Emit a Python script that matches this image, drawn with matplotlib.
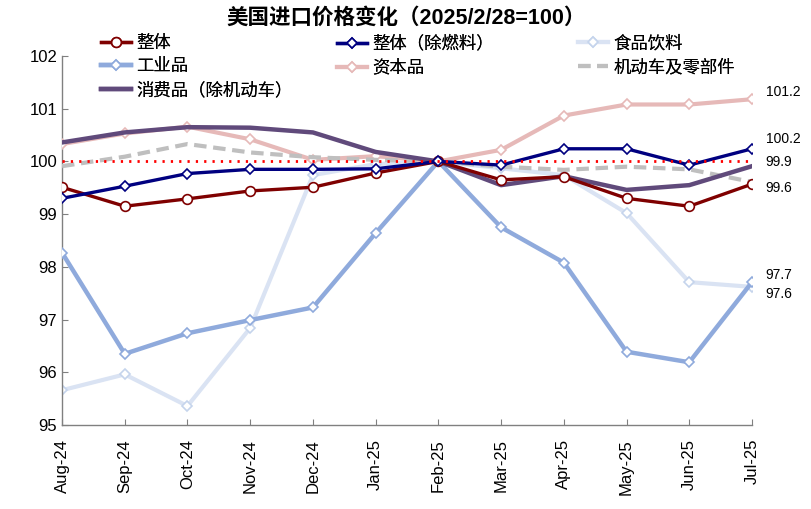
import matplotlib
matplotlib.use('Agg')
import matplotlib.pyplot as plt

plt.rcParams['font.family'] = ['Liberation Sans', 'Noto Sans CJK SC', 'DejaVu Sans']
plt.rcParams['axes.unicode_minus'] = False

months = ['Aug-24', 'Sep-24', 'Oct-24', 'Nov-24', 'Dec-24', 'Jan-25', 'Feb-25',
          'Mar-25', 'Apr-25', 'May-25', 'Jun-25', 'Jul-25']

total = [99.51, 99.15, 99.29, 99.44, 99.51, 99.78, 100.0, 99.65, 99.71, 99.30, 99.15, 99.57]
total_ex_fuel = [99.30, 99.53, 99.77, 99.85, 99.85, 99.86, 100.0, 99.93, 100.24, 100.24, 99.93, 100.24]
food = [95.66, 95.96, 95.36, 96.84, 99.74, 99.95, 100.0, 99.87, 99.74, 99.02, 97.71, 97.62]
industrial = [98.27, 96.35, 96.74, 96.99, 97.23, 98.64, 100.0, 98.75, 98.08, 96.39, 96.19, 97.71]
capital = [100.33, 100.53, 100.66, 100.42, 100.03, 100.10, 100.0, 100.22, 100.87, 101.08, 101.08, 101.18]
autos = [99.91, 100.09, 100.33, 100.17, 100.08, 100.03, 100.0, 99.90, 99.84, 99.90, 99.85, 99.61]
consumer = [100.36, 100.55, 100.65, 100.64, 100.55, 100.18, 100.0, 99.55, 99.72, 99.46, 99.55, 99.91]

end_labels = ['101.2', '100.2', '99.9', '99.6', '97.7', '97.6']
end_label_y = [101.32, 100.42, 99.99, 99.50, 97.85, 97.48]

x = list(range(len(months)))

fig = plt.figure(figsize=(8.12, 5.09), dpi=100)
ax = fig.add_axes([62 / 812, 1 - 425 / 509, (752 - 62) / 812, (425 - 56) / 509])

ax.plot(x, total, color='#7F0000', lw=2.4, marker='o', ms=7, mfc='white',
        mec='#7F0000', mew=1.2, label='整体', zorder=5)
ax.plot(x, total_ex_fuel, color='#000080', lw=2.4, marker='D', ms=5.5, mfc='white',
        mec='#000080', mew=1.2, label='整体（除燃料）', zorder=6)
ax.plot(x, food, color='#DAE3F3', lw=3, marker='D', ms=5.5, mfc='white',
        mec='#C5D4EC', mew=1.2, label='食品饮料', zorder=2)
ax.plot(x, industrial, color='#8FAADC', lw=3.2, marker='D', ms=5.5, mfc='white',
        mec='#8FAADC', mew=1.2, label='工业品', zorder=3)
ax.plot(x, capital, color='#E6B9B8', lw=3, marker='D', ms=5.5, mfc='white',
        mec='#E6B9B8', mew=1.2, label='资本品', zorder=3)
ax.plot(x, autos, color='#BFBFBF', lw=3, ls=(0, (3, 1.6)), label='机动车及零部件', zorder=3)
ax.plot(x, consumer, color='#604A7B', lw=3.2, label='消费品（除机动车）', zorder=4)

ax.plot([x[0], x[-1]], [100, 100], color='red', lw=2, ls=(0, (0.8, 2.2)), zorder=7)

for t, yy in zip(end_labels, end_label_y):
    ax.text(x[-1] + 0.22, yy, t, fontsize=10, va='center', ha='left', clip_on=False)

ax.set_xlim(0, 11)
ax.set_ylim(95, 102)
ax.set_yticks(range(95, 103))
ax.set_xticks(x)
ax.set_xticklabels(months, rotation=90, fontsize=12)
ax.tick_params(axis='y', labelsize=12, direction='in', length=4, color='#808080')
ax.tick_params(axis='x', direction='in', length=4, color='#808080', pad=10)
for s in ['top', 'right']:
    ax.spines[s].set_visible(False)
for s in ['left', 'bottom']:
    ax.spines[s].set_color('#808080')
    ax.spines[s].set_linewidth(1)

fig.text(0.5, 1 - 18 / 509, '美国进口价格变化（2025/2/28=100）', ha='center', va='center',
         fontsize=15.5, fontweight='bold')

# legend: three columns placed like the original, filled row by row
handles, labels = ax.get_legend_handles_labels()
col_x = [101, 337, 578]
for c in range(3):
    idx = list(range(c, len(handles), 3))
    leg = fig.legend([handles[i] for i in idx], [labels[i] for i in idx],
                     loc='upper left', bbox_to_anchor=(col_x[c] / 812, 1 - 35 / 509),
                     frameon=False, fontsize=12.5, handlelength=1.75, handletextpad=0.3,
                     labelspacing=0.42, borderaxespad=0, borderpad=0)
    fig.add_artist(leg)

fig.savefig('out.png', dpi=100)
